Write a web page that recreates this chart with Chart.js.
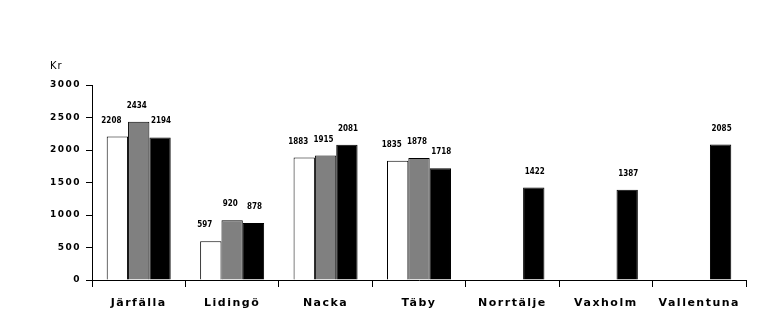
<!DOCTYPE html>
<html>
<head>
<meta charset="utf-8">
<script src="https://cdn.jsdelivr.net/npm/chart.js@4"></script>
<style>
  html, body { margin: 0; padding: 0; background: #fff; }
  #wrap { width: 760px; height: 335px; }
</style>
</head>
<body>
<div id="wrap"><canvas id="myChart" width="760" height="335"></canvas></div>
<script>
let kommuner = ['Järfälla', 'Lidingö', 'Nacka', 'Täby', 'Norrtälje', 'Vaxholm', 'Vallentuna'];
let serie1 = [2208, 597, 1883, 1835, null, null, null];
let serie2 = [2434, 920, 1915, 1878, null, null, null];
let serie3 = [2194, 878, 2081, 1718, 1422, 1387, 2085];
let yTicks = [0, 500, 1000, 1500, 2000, 2500, 3000];

// draws "Kr" and the value above each bar
let valuePlugin = {
    id: 'values',
    beforeDraw(chart) {
        chart.ctx.letterSpacing = '1.5px';
    },
    afterDatasetsDraw(chart) {
        let ctx = chart.ctx;
        ctx.save();
        ctx.letterSpacing = '0px';
        ctx.fillStyle = '#000';
        ctx.font = 'bold 8px "DejaVu Sans Condensed"';
        ctx.textAlign = 'center';
        ctx.textBaseline = 'middle';
        let shift = [-6, -2, 1];
        chart.data.datasets.forEach((ds, i) => {
            chart.getDatasetMeta(i).data.forEach((bar, j) => {
                if (ds.data[j] == null) return;
                ctx.fillText(String(ds.data[j]), bar.x + shift[i], bar.y - 16);
            });
        });
        ctx.font = '10px "DejaVu Sans"';
        ctx.letterSpacing = '1px';
        ctx.textAlign = 'left';
        ctx.fillText('Kr', 50, 66);
        ctx.restore();
    }
};

let myChart = document.getElementById('myChart').getContext('2d');

let chart = new Chart(myChart, {
    type: 'bar',
    data: {
        labels: kommuner,
        datasets: [
            { data: serie1, backgroundColor: '#ffffff', borderColor: '#000', borderWidth: 1 },
            { data: serie2, backgroundColor: '#808080', borderColor: '#000', borderWidth: 1 },
            { data: serie3, backgroundColor: '#000000', borderColor: '#000', borderWidth: 1 }
        ]
    },
    options: {
        responsive: false,
        animation: false,
        devicePixelRatio: 1,
        layout: { padding: { top: 85, right: 14, left: 0, bottom: 0 } },
        datasets: { bar: { categoryPercentage: 0.685, barPercentage: 1 } },
        plugins: {
            legend: { display: false },
            tooltip: { enabled: false }
        },
        scales: {
            x: {
                grid: { drawOnChartArea: false, tickLength: 7, color: '#000', offset: true },
                border: { color: '#000', width: 1 },
                ticks: {
                    color: '#000',
                    padding: 10,
                    font: { family: 'DejaVu Sans', size: 11, weight: 'bold' }
                },
                afterFit(scale) { scale.height = 55; }
            },
            y: {
                min: 0,
                max: 3000,
                afterBuildTicks(scale) { scale.ticks = yTicks.map(v => ({ value: v })); },
                grid: { drawOnChartArea: false, tickLength: 6, color: '#000' },
                border: { color: '#000', width: 1 },
                ticks: {
                    color: '#000',
                    padding: 5,
                    font: { family: 'DejaVu Sans', size: 9, weight: 'bold' },
                    callback: v => String(v)
                },
                afterFit(scale) { scale.width = 92; }
            }
        }
    },
    plugins: [valuePlugin]
});
</script>
</body>
</html>
